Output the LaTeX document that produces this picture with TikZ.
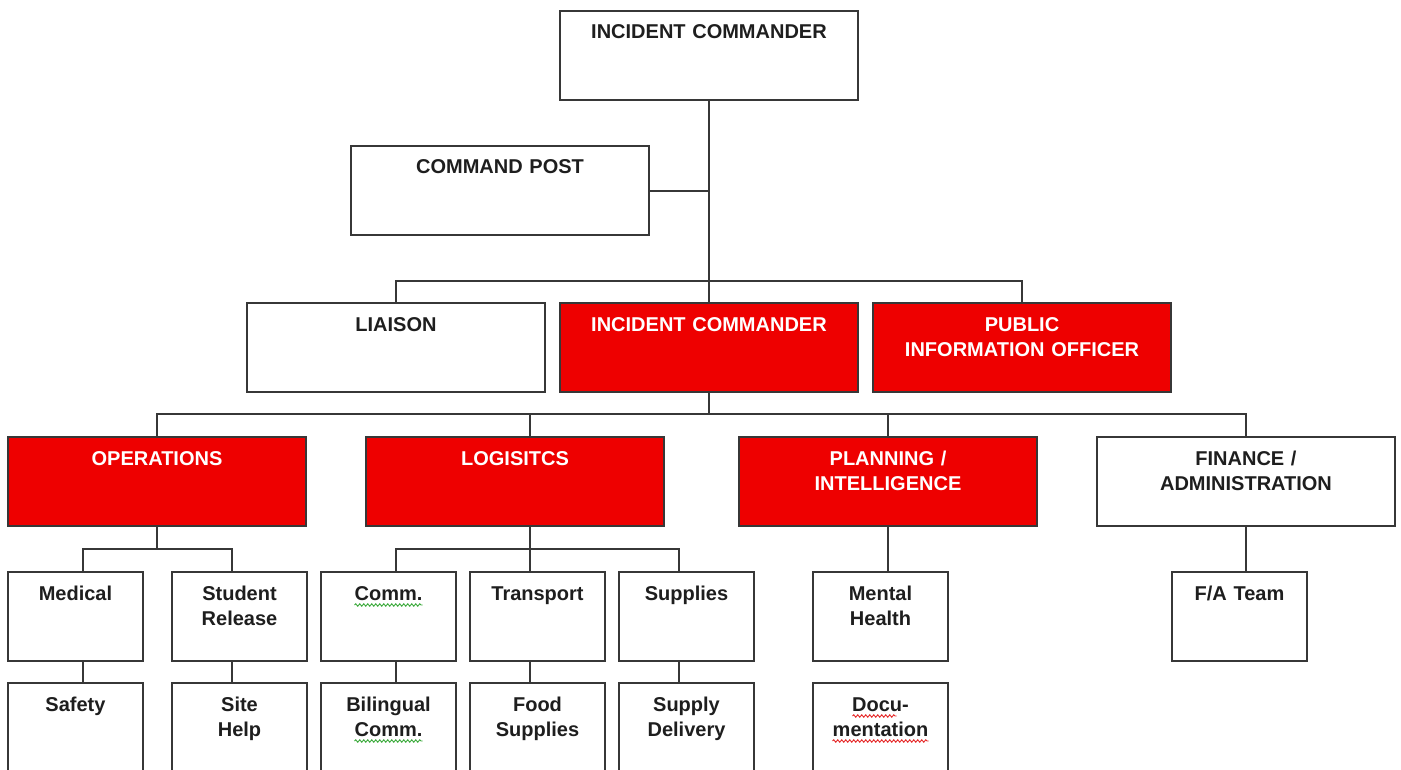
\documentclass[tikz,border=0pt]{standalone}
\usepackage{fontspec}
\setmainfont{Liberation Sans}
\usetikzlibrary{positioning, decorations.pathmorphing}

\definecolor{chartred}{RGB}{238,0,0}
\definecolor{chartline}{RGB}{55,55,55}
\definecolor{charttext}{RGB}{30,30,30}
\definecolor{spellgreen}{RGB}{60,170,60}
\definecolor{spellred}{RGB}{230,40,40}

\begin{document}
\begin{tikzpicture}[x=1pt, y=-1pt,
    box/.style={draw=chartline, line width=1.8pt, fill=white, text=charttext, inner sep=0pt,
                outer sep=0pt, anchor=north west, align=center, text height=28pt, text depth=61pt,
                font=\bfseries\fontsize{20}{25.5}\selectfont},
    redbox/.style={box, fill=chartred, text=white},
    widebox/.style={text width=298pt},
    unitbox/.style={text width=135pt},
    lowbox/.style={box, unitbox, text depth=80pt},
    link/.style={draw=chartline, line width=1.8pt},
    spellmark/.style={draw=#1, line width=0.9pt, decorate,
                      decoration={snake, amplitude=1.2pt, segment length=4pt}}]
    \useasboundingbox (0,0) rectangle (1401,770);
    \clip (0,0) rectangle (1401,770);

    % command staff
    \node (ic)      [box, widebox]    at (560,11)  {INCIDENT COMMANDER};
    \node (post)    [box, widebox]    at (351,146) {COMMAND POST};
    \node (liaison) [box, widebox]    at (247,303) {LIAISON};
    \node (icred)   [redbox, widebox] at (560,303) {INCIDENT COMMANDER};
    \node (pio)     [redbox, widebox] at (873,303) {PUBLIC\\INFORMATION OFFICER};

    % sections
    \node (ops)       [redbox, widebox] at (8,437)    {OPERATIONS};
    \node (logistics) [redbox, widebox] at (366,437)  {LOGISITCS};
    \node (planning)  [redbox, widebox] at (739,437)  {PLANNING /\\INTELLIGENCE};
    \node (finance)   [box, widebox]    at (1097,437) {FINANCE /\\ADMINISTRATION};

    % units
    \node (medical)   [box, unitbox] at (8,572)    {Medical};
    \node (release)   [box, unitbox] at (172,572)  {Student\\Release};
    \node (comm)      [box, unitbox] at (321,572)  {Comm.};
    \node (transport) [box, unitbox] at (470,572)  {Transport};
    \node (supplies)  [box, unitbox] at (619,572)  {Supplies};
    \node (mental)    [box, unitbox] at (813,572)  {Mental\\Health};
    \node (fateam)    [box, unitbox] at (1172,572) {F/A Team};

    \node (safety)    [lowbox, below=22pt of medical]   {Safety};
    \node (sitehelp)  [lowbox, below=22pt of release]   {Site\\Help};
    \node (bilingual) [lowbox, below=22pt of comm]      {Bilingual\\Comm.};
    \node (food)      [lowbox, below=22pt of transport] {Food\\Supplies};
    \node (delivery)  [lowbox, below=22pt of supplies]  {Supply\\Delivery};
    \node (docu)      [lowbox, below=22pt of mental]    {Docu-\\mentation};

    \coordinate (staffbar)   at (709,281);
    \coordinate (sectionbar) at (709,414);
    \coordinate (opsfork)    at (157,549);
    \coordinate (logfork)    at (530,549);

    \draw[link] (ic) -- (icred);
    \draw[link] ([yshift=-0.5pt]post.east) -- ([yshift=-0.5pt]post.east -| ic.south);
    \draw[link] (liaison.north) |- (staffbar) -| (pio.north);

    \draw[link] (icred) -- (sectionbar);
    \draw[link] (ops.north) |- (sectionbar) -| (finance.north);
    \draw[link] (logistics.north -| logfork) -- (logfork |- sectionbar);
    \draw[link] (planning.north) -- (planning.north |- sectionbar);

    \draw[link] (ops) -- (opsfork);
    \draw[link] ([xshift=7.5pt]medical.north) |- (opsfork) -| ([xshift=-7.5pt]release.north);
    \draw[link] (logistics.south -| logfork) -- ([xshift=-7.5pt]transport.north);
    \draw[link] ([xshift=7.5pt]comm.north) |- (logfork) -| ([xshift=-7.5pt]supplies.north);
    \draw[link] (planning.south) -- (planning.south |- mental.north);
    \draw[link] (finance.south) -- (finance.south |- fateam.north);

    \draw[link] ([xshift=7.5pt]medical.south)    -- ([xshift=7.5pt]safety.north);
    \draw[link] ([xshift=-7.5pt]release.south)   -- ([xshift=-7.5pt]sitehelp.north);
    \draw[link] ([xshift=7.5pt]comm.south)       -- ([xshift=7.5pt]bilingual.north);
    \draw[link] ([xshift=-7.5pt]transport.south) -- ([xshift=-7.5pt]food.north);
    \draw[link] ([xshift=-7.5pt]supplies.south)  -- ([xshift=-7.5pt]delivery.north);

    % spelling marks
    \draw[spellmark=spellgreen] ([xshift=-34pt, yshift=-33pt]comm.north) -- ([xshift=34pt, yshift=-33pt]comm.north);
    \draw[spellmark=spellgreen] ([xshift=-34pt, yshift=-58pt]bilingual.north) -- ([xshift=34pt, yshift=-58pt]bilingual.north);
    \draw[spellmark=spellred] ([xshift=-28pt, yshift=-33pt]docu.north) -- ([xshift=16pt, yshift=-33pt]docu.north);
    \draw[spellmark=spellred] ([xshift=-48pt, yshift=-58pt]docu.north) -- ([xshift=48pt, yshift=-58pt]docu.north);
\end{tikzpicture}
\end{document}
